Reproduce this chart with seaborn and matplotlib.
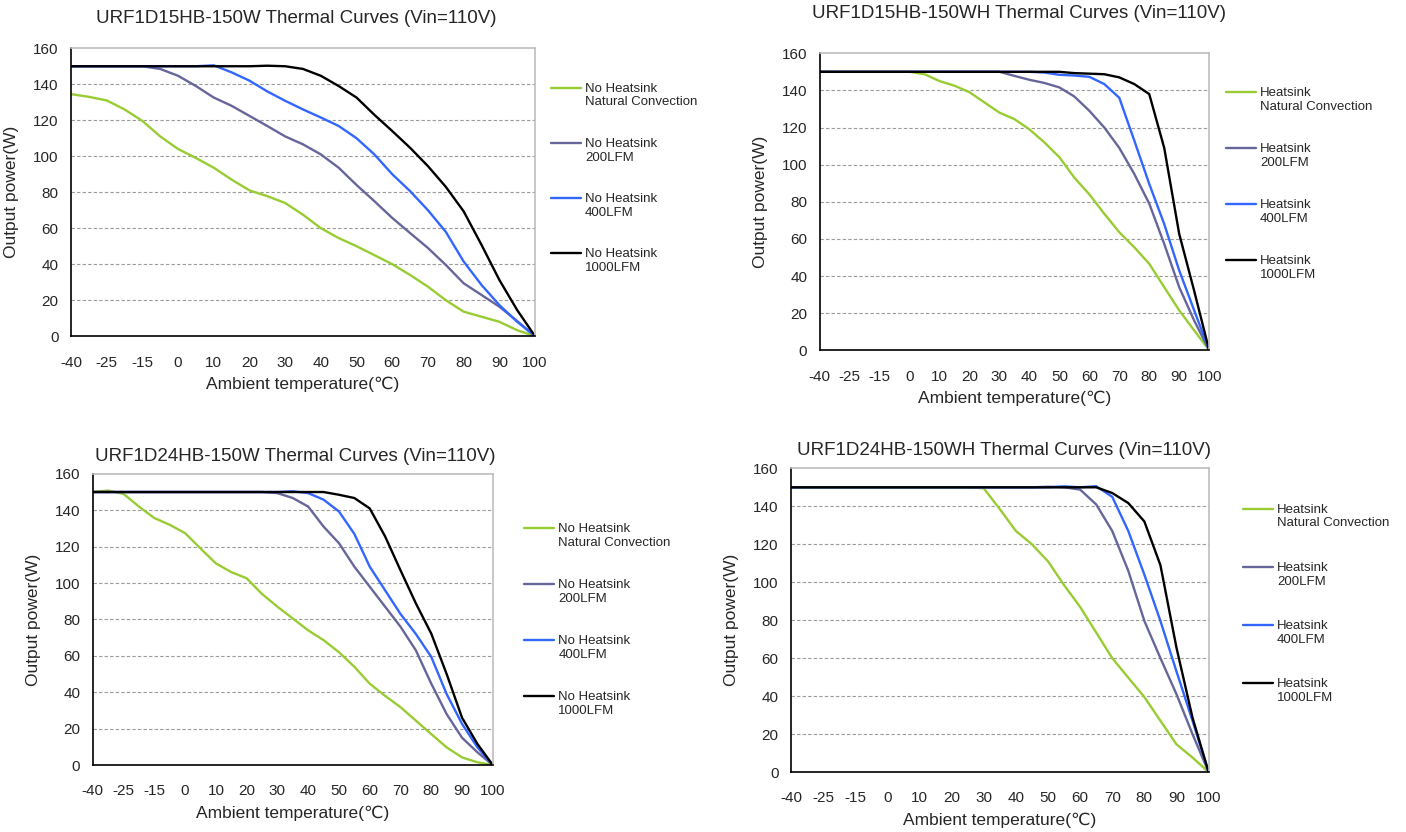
import numpy as np
import pandas as pd
import matplotlib.pyplot as plt
from matplotlib.ticker import FixedLocator
from matplotlib.legend_handler import HandlerLine2D
import seaborn as sns

sns.set_style("white")
plt.rcParams['font.family'] = ['Liberation Sans', 'DejaVu Sans']

# x axis categories (equally spaced on the chart)
temp_labels = ['-40', '-25', '-15', '0', '10', '20', '30', '40', '50', '60', '70', '80', '90', '100']
# sample positions read every half step between the tick labels
slots = np.arange(0, 13.5, 0.5)

series_names = ['Natural Convection', '200LFM', '400LFM', '1000LFM']
colors = ['#99cc33', '#66669a', '#3366ff', '#000000']

# URF1D15HB-150W
p1_nat = [134.5, 133, 131, 126, 119.6, 111, 104, 99, 93.6, 87, 81, 77.8, 74, 67.5, 60, 54.5, 50, 45, 40, 34, 27.5, 20, 13.6, 10.8, 8, 3.3, 0]
p1_200 = [150, 150, 150, 150, 150, 148.5, 144.7, 139, 132.6, 128, 122.4, 116.8, 111, 106.6, 101, 93.6, 84, 75, 65.7, 57.3, 49, 39.6, 29.4, 22.9, 16.4, 8.4, 0]
p1_400 = [150, 150, 150, 150, 150, 150, 150, 150, 150.5, 146.6, 142, 136, 130.8, 126, 121.5, 116.8, 110, 101, 90, 80.6, 70, 58, 41.5, 28.5, 17.3, 8, 0]
p1_1000 = [150, 150, 150, 150, 150, 150, 150, 150, 150, 150, 150, 150.3, 150, 148.5, 144.7, 139, 132.6, 123, 114, 104.7, 94.5, 83, 69.4, 50.8, 31.3, 14.5, 0]

# URF1D15HB-150WH
p2_nat = [150, 150, 150, 150, 150, 150, 150, 148.7, 145, 142.5, 139, 133.5, 128, 124.5, 119, 112, 104, 93, 84, 73.5, 63.6, 55.5, 46.6, 34, 21.5, 10.7, 0]
p2_200 = [150, 150, 150, 150, 150, 150, 150, 150, 150, 150, 150, 150, 150, 147.8, 145.7, 144, 141.6, 136.7, 129, 120, 109, 95, 79, 57.3, 34, 16, 0]
p2_400 = [150, 150, 150, 150, 150, 150, 150, 150, 150, 150, 150, 150, 150, 150, 150, 149.6, 148.4, 148, 147.3, 143.4, 136, 113, 89.6, 68, 43, 21.5, 0]
p2_1000 = [150, 150, 150, 150, 150, 150, 150, 150, 150, 150, 150, 150, 150, 150, 150, 150, 150, 149.3, 149, 148.7, 147, 143.4, 138, 109, 62.7, 32, 0]

# URF1D24HB-150W
p3_nat = [150, 150.8, 149, 142, 135.7, 132, 127.4, 119, 110.8, 106, 102.6, 94, 87, 80.5, 74, 68.6, 62, 54, 44.7, 38, 31.8, 24.4, 17, 9.7, 4.2, 1.5, 0]
p3_200 = [150, 150, 150, 150, 150, 150, 150, 150, 150, 150, 150, 150, 149.4, 146.7, 142, 131, 121.9, 109, 98, 87, 76, 63, 44.7, 28, 15, 7, 0]
p3_400 = [150, 150, 150, 150, 150, 150, 150, 150, 150, 150, 150, 150, 150, 150.4, 149.4, 145.8, 139.3, 127, 109, 96, 83, 72, 59.4, 39, 22.6, 9.7, 0]
p3_1000 = [150, 150, 150, 150, 150, 150, 150, 150, 150, 150, 150, 150, 150, 150, 150, 150, 148.5, 146.7, 141, 125.6, 107, 88.8, 72.2, 50, 26, 11.6, 0]

# URF1D24HB-150WH
p4_nat = [150, 150, 150, 150, 150, 150, 150, 150, 150, 150, 150, 150, 149.5, 138.5, 127, 120, 111, 98.5, 87, 73.5, 60, 49.7, 39.5, 27, 14.6, 7.6, 0]
p4_200 = [150, 150, 150, 150, 150, 150, 150, 150, 150, 150, 150, 150, 150, 150, 150, 150, 150.3, 150, 148.8, 141, 127, 106, 79.6, 60, 41, 19.9, 0]
p4_400 = [150, 150, 150, 150, 150, 150, 150, 150, 150, 150, 150, 150, 150, 150, 150, 150, 150, 150.5, 150, 150.6, 145, 127, 104, 79.6, 53, 27, 0]
p4_1000 = [150, 150, 150, 150, 150, 150, 150, 150, 150, 150, 150, 150, 150, 150, 150, 150, 150, 150, 150, 150, 147, 141.7, 132, 109, 65.5, 28.6, 0]

titles = ['URF1D15HB-150W Thermal Curves (Vin=110V)',
          'URF1D15HB-150WH Thermal Curves (Vin=110V)',
          'URF1D24HB-150W Thermal Curves (Vin=110V)',
          'URF1D24HB-150WH Thermal Curves (Vin=110V)']
prefixes = ['No Heatsink', 'Heatsink', 'No Heatsink', 'Heatsink']

panels = [[p1_nat, p1_200, p1_400, p1_1000],
          [p2_nat, p2_200, p2_400, p2_1000],
          [p3_nat, p3_200, p3_400, p3_1000],
          [p4_nat, p4_200, p4_400, p4_1000]]

# axes boxes in figure fraction, title centres, legend anchors
boxes = [[0.0505, 0.596, 0.330, 0.346],
         [0.583, 0.579, 0.277, 0.357],
         [0.066, 0.0805, 0.2845, 0.350],
         [0.5626, 0.0721, 0.297, 0.365]]
title_pos = [(0.211, 0.978), (0.725, 0.984), (0.210, 0.451), (0.714, 0.459)]
legend_pos = [(0.388, 0.907), (0.868, 0.902), (0.369, 0.378), (0.880, 0.401)]
legend_gap = [2.23, 2.3, 2.3, 2.45]
LEG_FS = 9.5


class FirstLineHandler(HandlerLine2D):
    # put the legend line level with the first line of a two-line label
    def create_artists(self, legend, orig_handle, xdescent, ydescent, width, height, fontsize, trans):
        arts = super().create_artists(legend, orig_handle, xdescent, ydescent, width, height, fontsize, trans)
        for a in arts:
            a.set_ydata(np.asarray(a.get_ydata()) + 0.58 * fontsize)
        return arts


fig = plt.figure(figsize=(14.06, 8.32), dpi=100)

for i in range(4):
    ax = fig.add_axes(boxes[i])
    for vals, name, c in zip(panels[i], series_names, colors):
        sns.lineplot(x=slots, y=vals, color=c, linewidth=1.7, ax=ax,
                     label=prefixes[i] + '\n' + name)
    ax.set_xlim(0, 13)
    ax.set_ylim(0, 160)
    ax.xaxis.set_major_locator(FixedLocator(np.arange(14)))
    ax.set_xticklabels(temp_labels)
    ax.set_yticks(np.arange(0, 161, 20))
    ax.tick_params(axis='x', direction='in', length=4, width=1, pad=14, labelsize=11, color='black')
    ax.tick_params(axis='y', length=0, pad=9, labelsize=11)
    for yv in range(20, 160, 20):
        ax.axhline(yv, color='#9a9a9a', linestyle=(0, (3, 2)), linewidth=0.8, zorder=0)
    ax.spines['left'].set_color('black')
    ax.spines['bottom'].set_color('black')
    ax.spines['top'].set_color('#bdbdbd')
    ax.spines['right'].set_color('#bdbdbd')
    for s in ax.spines.values():
        s.set_linewidth(1.2)
    ax.set_xlabel('Ambient temperature(\u2103)', fontsize=12.5, labelpad=5)
    ax.set_ylabel('Output power(W)', fontsize=12.5, labelpad=10)
    fig.text(title_pos[i][0], title_pos[i][1], titles[i], ha='center', va='center', fontsize=13.5)
    ax.legend(loc='upper left', bbox_to_anchor=legend_pos[i], bbox_transform=fig.transFigure,
              frameon=False, fontsize=LEG_FS, handlelength=2.3, handletextpad=0.3,
              labelspacing=legend_gap[i], borderaxespad=0,
              handler_map={plt.Line2D: FirstLineHandler()})

fig.savefig('out.png', dpi=100)
